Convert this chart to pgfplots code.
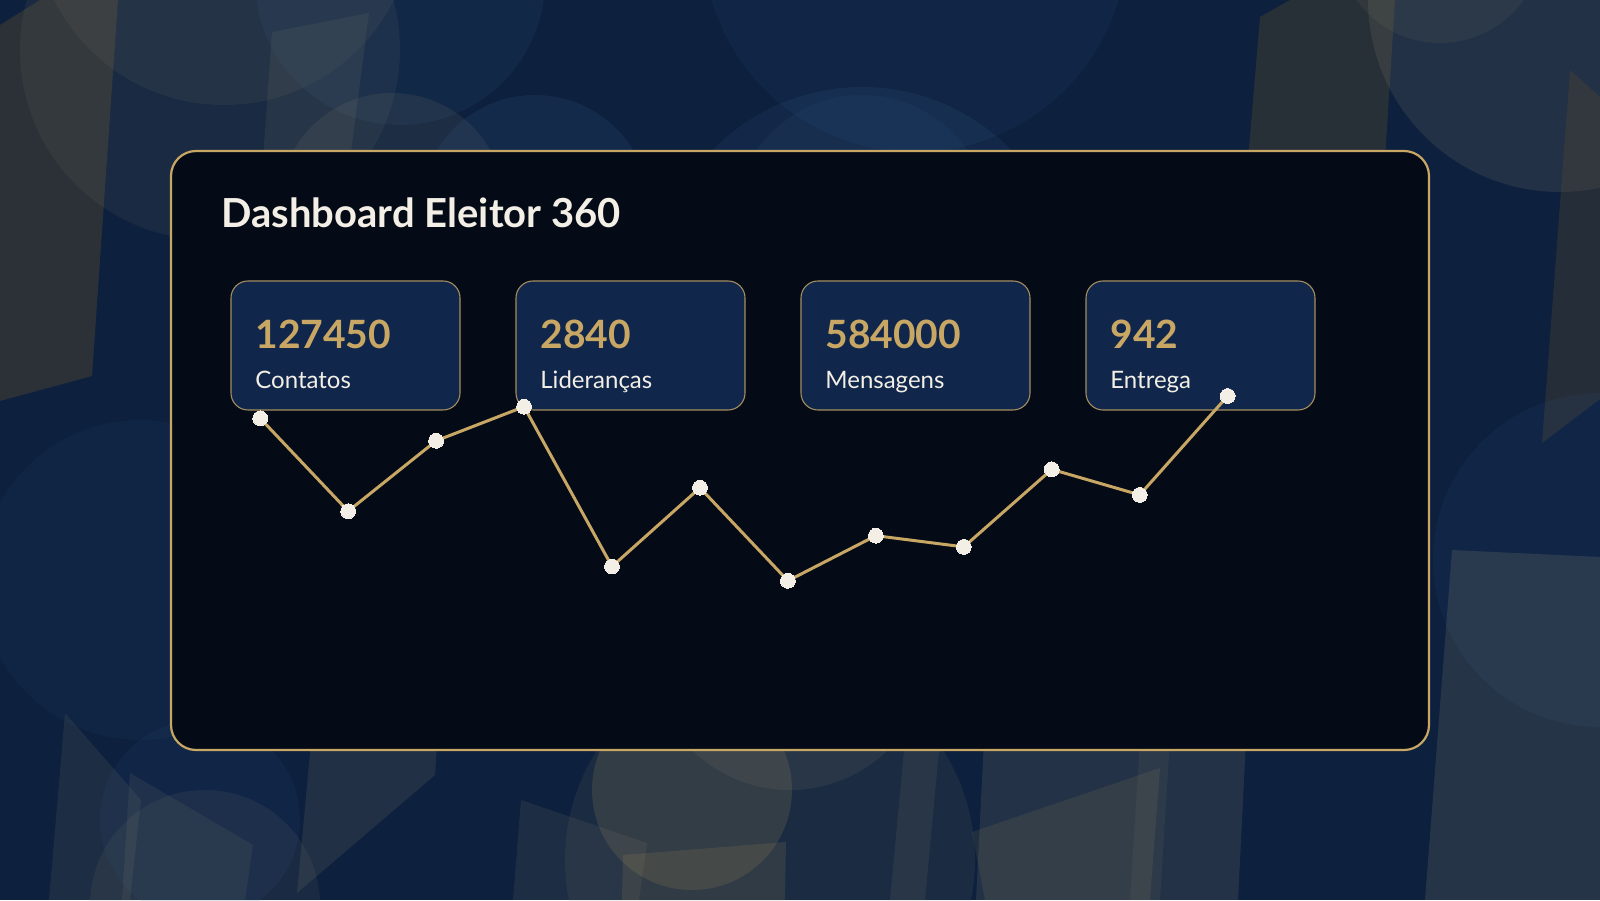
\documentclass[border=0pt]{standalone}
\usepackage{pgfplots}
\pgfplotsset{compat=1.18}
\usepackage{fontspec}
\setmainfont{Lato}
\definecolor{bgnavy}{HTML}{0D203D}
\definecolor{panelbg}{HTML}{050B16}
\definecolor{cardbg}{HTML}{10264A}
\definecolor{gold}{HTML}{C8A765}
\definecolor{cream}{HTML}{F3EFE6}
\definecolor{warm}{HTML}{8A8672}
\definecolor{goldsh}{HTML}{A8905A}
\definecolor{bluesh}{HTML}{3D6496}
\definecolor{darksh}{HTML}{504630}

\pgfplotstableread{
idx value
0  481.7
1  388.8
2  459.2
3  493.3
4  333.5
5  412.2
6  319.2
7  364.3
8  353.1
9  430.6
10 405.1
11 504.0
}\trenddata

\begin{document}
\begin{tikzpicture}
\useasboundingbox (0,0) rectangle (800pt,450pt);
\begin{scope}[shift={(0,450pt)},x=0.5pt,y=-0.5pt]
\clip (0,0) rectangle (1600,900);
\fill[bgnavy] (0,0) rectangle (1600,900);
% top-left decorations
\fill[darksh,opacity=0.45] (0,25) -- (40,0) -- (118,0) -- (92,376) -- (0,401) -- cycle;
\fill[warm,opacity=0.1] (210,50) circle (190);
\fill[warm,opacity=0.1] (224,-85) circle (190);
\fill[bluesh,opacity=0.12] (400,-20) circle (145);
\fill[warm,opacity=0.13] (392,206) circle (113);
\fill[bluesh,opacity=0.16] (535,210) circle (115);
\fill[warm,opacity=0.13] (272,32) -- (369,13) -- (350,160) -- (263,160) -- cycle;
% top centre
\fill[bluesh,opacity=0.1] (915,-60) circle (212);
\fill[bluesh,opacity=0.13] (862,295) circle (208);
\fill[bluesh,opacity=0.1] (862,223) circle (128);
% top right
\fill[darksh,opacity=0.4] (1260,17) -- (1290,0) -- (1395,0) -- (1385,160) -- (1248,160) -- cycle;
\fill[warm,opacity=0.17] (1560,0) circle (192);
\fill[warm,opacity=0.1] (1440,-60) circle (103);
\fill[darksh,opacity=0.35] (1570,70) -- (1600,97) -- (1600,399) -- (1542,443) -- cycle;
% right
\fill[bluesh,opacity=0.1] (1600,560) circle (167);
\fill[warm,opacity=0.2] (1452,550) -- (1600,557) -- (1600,900) -- (1425,900) -- cycle;
% left middle
\fill[bluesh,opacity=0.07] (140,580) circle (160);
% bottom left
\fill[warm,opacity=0.13] (65,713) -- (141,800) -- (130,900) -- (49,900) -- cycle;
\fill[warm,opacity=0.13] (130,773) -- (253,845) -- (245,900) -- (122,900) -- cycle;
\fill[bluesh,opacity=0.1] (200,820) circle (100);
\fill[warm,opacity=0.1] (205,905) circle (115);
\fill[warm,opacity=0.16] (315,700) -- (440,700) -- (435,775) -- (297,893) -- cycle;
% bottom centre
\fill[warm,opacity=0.13] (521,800) -- (647,843) -- (639,900) -- (513,900) -- cycle;
\fill[warm,opacity=0.11] (770,860) circle (205);
\fill[goldsh,opacity=0.18] (692,790) circle (100);
\fill[warm,opacity=0.13] (790,650) circle (140);
\fill[goldsh,opacity=0.16] (623,855) -- (786,842) -- (785,900) -- (622,900) -- cycle;
\fill[warm,opacity=0.13] (905,740) -- (940,740) -- (925,900) -- (890,900) -- cycle;
% bottom right of centre
\fill[warm,opacity=0.18] (984,740) -- (1246,740) -- (1238,900) -- (976,900) -- cycle;
\fill[goldsh,opacity=0.13] (972,832) -- (1160,768) -- (1150,900) -- (985,900) -- cycle;
\fill[warm,opacity=0.1] (1140,740) -- (1170,740) -- (1160,900) -- (1130,900) -- cycle;
% panel
\draw[gold, line width=1.1pt, fill=panelbg, rounded corners=12.5pt] (171,151) rectangle (1429,750);
\node[anchor=base west, inner sep=0pt, text=cream, font=\fontsize{20}{24}\selectfont\bfseries] at (221,228) {Dashboard Eleitor 360};
% cards
\foreach \x/\num/\lab in {231/127450/Contatos, 516/2840/Lideranças, 801/584000/Mensagens, 1086/942/Entrega}{
  \draw[gold!80!cardbg, line width=0.55pt, fill=cardbg, rounded corners=8.5pt] (\x,281) rectangle ++(229,129);
  \node[anchor=base west, inner sep=0pt, text=gold, font=\fontsize{19.5}{22}\selectfont\bfseries] at (\x+24,349) {\num};
  \node[anchor=base west, inner sep=0pt, text=cream, font=\fontsize{12}{14}\selectfont] at (\x+24,389) {\lab};
}
\end{scope}
\begin{axis}[
  at={(0,0)}, anchor=south west,
  scale only axis, width=800pt, height=450pt,
  xmin=-2.9585, xmax=15.2336, ymin=0, ymax=900,
  hide axis, clip=false,
]
\addplot[gold, line width=1.5pt, mark=*, mark size=3.7pt,
  mark options={fill=cream, draw=cream, line width=0pt}]
  table[x=idx, y=value] {\trenddata};
\end{axis}
\end{tikzpicture}
\end{document}
